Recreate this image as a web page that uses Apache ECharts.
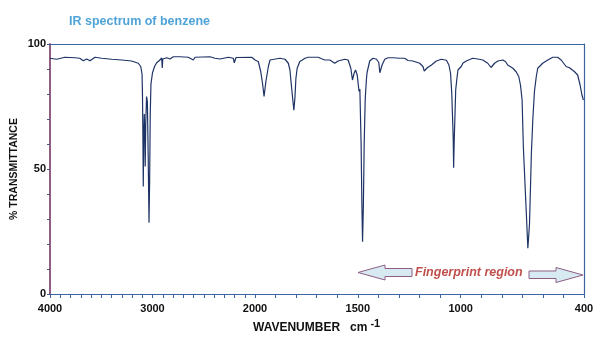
<!DOCTYPE html>
<html>
<head>
<meta charset="utf-8">
<script src="https://cdn.jsdelivr.net/npm/echarts@6/dist/echarts.min.js"></script>
<style>
html,body{margin:0;padding:0;background:#fff;}
#chart{width:605px;height:348px;}
</style>
</head>
<body>
<div id="chart"></div>
<script>
// Wavenumber (cm-1) and % transmittance
const wavenumbers = [
  4000,3935,3854,3756,3710,3675,3642,3610,3561,3496,3398,3300,3203,3139,3115,3102,3098,3094,3090,3086,
  3080,3074,3071,3066,3058,3050,3042,3034,3028,3022,3015,3000,2980,2959,2930,2910,2905,2900,2860,2829,
  2797,2732,2651,2634,2602,2585,2439,2390,2341,2260,2212,2202,2185,2032,2000,
  1984,1972,1963,1956,1947,1935,1927,1919,1879,1854,1838,1830,1822,1811,1806,1801,1795,1782,1770,1757,
  1749,1741,1693,1673,1660,1636,1628,1612,1596,1563,1547,1534,1526,1518,1511,1503,1494,1490,1484,1480,
  1477,1473,1469,1464,1458,1455,1442,1426,1409,1398,1393,1382,1369,1353,1328,1296,1272,1256,1232,1199,
  1183,1177,1162,1142,1118,1094,1069,1057,1049,1043,1039,1036,1034,1031,1028,1024,1017,1013,997,989,
  973,941,917,892,868,852,835,819,795,782,771,762,746,730,717,709,701,695,682,673,
  665,656,649,641,632,625,601,576,552,528,511,487,471,447,431,419,410,403,400
];
const transmittance = [
  94.3,93.9,94.7,94.5,94.3,93.3,94.0,93.3,94.7,94.3,93.9,93.6,93.2,92.3,91.0,88,80,65,43,62,
  72,60,51,68,79,77,55,28.5,45,72,84,88.5,91,92.5,93.5,94.4,90.4,94,94.5,94,
  94.9,94.9,94.7,94.3,93.6,94.7,94.9,94.3,94.0,94.7,94.3,92.5,94.6,94.7,93.6,
  93,88.9,84,79,85,91,93.6,94.3,94.3,93.9,92.3,89.6,82.5,73.5,78.3,86.3,90.3,93,93.6,94.3,
  93.6,94.7,94.7,94,93.6,93.6,93.2,92.3,93.2,93.9,93.6,90.3,85.6,88.3,89.6,87.6,81,82,60,35,
  20.9,35,60,78,86,88.6,93.2,94.3,93.9,92.6,88.5,91.6,93.9,94.5,94.5,94.3,94.3,93.4,93.2,92.3,
  91,89.2,90.5,91.6,93.2,93.9,93.5,91.6,88.3,80,70,62,50.5,62,70,81.6,87,89.6,91,92.3,
  93.2,94.3,94,93.6,92.3,90.6,92.3,93.2,93.6,93,91.6,92.3,90.3,88.9,86.9,83.6,77.6,59,35,18.3,
  28,56,69.6,81,87,90.3,92.3,93.6,94.7,94.7,93.6,91,90.5,89,87.6,83.6,79.6,77.6,77.6
];
// Axis tick labels
const xLabelsLeft = [4000, 3000, 2000];
const xLabelsRight = [1500, 1000, 400];
const yLabels = [0, 50, 100];

const highPart = [], lowPart = [];
wavenumbers.forEach((w, i) => {
  if (w >= 2000) highPart.push([w, transmittance[i]]);
  if (w <= 2000) lowPart.push([w, transmittance[i]]);
});

const FONT = 'Liberation Sans';
const BLUE = '#3B64A0';
const MAUVE = '#8E5E84';
const LINE = '#1F3466';

const chart = echarts.init(document.getElementById('chart'), null, {renderer: 'canvas'});
chart.setOption({
  animation: false,
  backgroundColor: '#ffffff',
  textStyle: {fontFamily: FONT},
  title: [
    {text: 'IR spectrum of benzene', left: 64, top: 10,
     textStyle: {color: '#4FA3D8', fontWeight: 'bold', fontSize: 12.5, fontFamily: FONT}},
    {text: '{a|WAVENUMBER   cm}{b|-1}', left: 253, top: 318, padding: 0,
     textStyle: {rich: {
       a: {fontWeight: 'bold', fontSize: 12, color: '#111', fontFamily: FONT, verticalAlign: 'bottom'},
       b: {fontWeight: 'bold', fontSize: 11, color: '#111', fontFamily: FONT, verticalAlign: 'top', padding: [0,0,5,3]}
     }}}
  ],
  grid: [
    {left: 50, top: 44, width: 205, bottom: 54},
    {left: 255, top: 44, width: 329, bottom: 54}
  ],
  xAxis: [
    {gridIndex: 0, type: 'value', min: 2000, max: 4000, inverse: true, interval: 100,
     axisLine: {onZero: false, lineStyle: {color: BLUE, width: 1.2}},
     axisTick: {length: 4, lineStyle: {color: BLUE}},
     splitLine: {show: false},
     axisLabel: {margin: 9, color: '#111', fontWeight: 'bold', fontSize: 11, fontFamily: FONT,
       showMinLabel: true, showMaxLabel: true, interval: 0,
       formatter: v => xLabelsLeft.includes(v) ? String(v) : ''}},
    {gridIndex: 1, type: 'value', min: 400, max: 2000, inverse: true, interval: 100,
     axisLine: {onZero: false, lineStyle: {color: BLUE, width: 1.2}},
     axisTick: {length: 4, lineStyle: {color: BLUE}},
     splitLine: {show: false},
     axisLabel: {margin: 9, color: '#111', fontWeight: 'bold', fontSize: 11, fontFamily: FONT,
       showMinLabel: true, showMaxLabel: true, interval: 0,
       formatter: v => xLabelsRight.includes(v) ? String(v) : ''}},
    {gridIndex: 0, type: 'value', position: 'top', min: 2000, max: 4000, inverse: true,
     axisLine: {onZero: false, lineStyle: {color: BLUE, width: 1.2}},
     axisTick: {show: false}, axisLabel: {show: false}, splitLine: {show: false}},
    {gridIndex: 1, type: 'value', position: 'top', min: 400, max: 2000, inverse: true,
     axisLine: {onZero: false, lineStyle: {color: BLUE, width: 1.2}},
     axisTick: {show: false}, axisLabel: {show: false}, splitLine: {show: false}}
  ],
  yAxis: [
    {gridIndex: 0, type: 'value', min: 0, max: 100, interval: 10,
     name: '% TRANSMITTANCE', nameLocation: 'middle', nameGap: 30,
     nameTextStyle: {fontWeight: 'bold', fontSize: 10.5, color: '#111', fontFamily: FONT},
     axisLine: {show: true, onZero: false, lineStyle: {color: MAUVE, width: 2}},
     axisTick: {show: true, length: 3, lineStyle: {color: '#4A5A80'}},
     splitLine: {show: false},
     axisLabel: {margin: 4, color: '#111', fontWeight: 'bold', fontSize: 11, fontFamily: FONT,
       formatter: v => yLabels.includes(v) ? String(v) : ''}},
    {gridIndex: 1, type: 'value', min: 0, max: 100, position: 'right',
     axisLine: {show: true, onZero: false, lineStyle: {color: BLUE, width: 1.2}},
     axisTick: {show: false}, axisLabel: {show: false}, splitLine: {show: false}}
  ],
  series: [
    {type: 'line', xAxisIndex: 0, yAxisIndex: 0, data: highPart, showSymbol: false,
     lineStyle: {color: LINE, width: 1.2}, z: 3},
    {type: 'line', xAxisIndex: 1, yAxisIndex: 1, data: lowPart, showSymbol: false,
     lineStyle: {color: LINE, width: 1.2}, z: 3}
  ],
  graphic: [
    {type: 'polygon', shape: {points: [[358,272.5],[385,265],[385,268.5],[412,268.5],[412,276.5],[385,276.5],[385,280]]},
     style: {fill: '#D7EAF2', stroke: MAUVE, lineWidth: 1}},
    {type: 'polygon', shape: {points: [[529,271],[556,271],[556,267.5],[583,275],[556,282.5],[556,278.5],[529,278.5]]},
     style: {fill: '#D7EAF2', stroke: MAUVE, lineWidth: 1}},
    {type: 'text', left: 415, top: 266,
     style: {text: 'Fingerprint region', fill: '#C0504D', font: 'italic bold 12.5px "Liberation Sans"'}}
  ]
});
</script>
</body>
</html>
